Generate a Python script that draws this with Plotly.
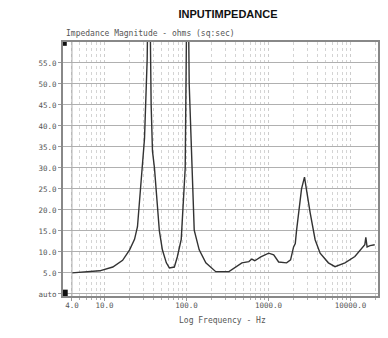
import plotly.graph_objects as go

freq_hz = [4.0, 5.75, 8.73, 12.6, 16.6, 20.2, 23.2, 25.2, 29.0, 30.7, 33.1, 34.8, 37.0, 38.4, 40.6,
           46.6, 50.7, 56.7, 61.7, 71.0, 77.1, 86.1, 96.3, 100.5, 102.8, 107.7, 116, 124, 142.6,
           171.8, 227, 329, 473, 575, 625, 680, 804, 1004, 1156, 1328, 1661, 1857, 2020, 2118,
           2193, 2322, 2525, 2744, 2942, 3219, 3700, 4256, 5370, 6472, 8553, 11300, 14930,
           15360, 15920, 17300, 19720]
impedance = [5.0, 5.2, 5.5, 6.4, 8.0, 10.5, 13.0, 16.0, 30.0, 37.0, 56.0, 90.0, 45.0, 34.0, 30.0,
             15.0, 10.5, 7.4, 6.2, 6.4, 8.8, 13.0, 30.0, 50.0, 90.0, 50.0, 30.0, 15.2, 10.5,
             7.4, 5.3, 5.3, 7.4, 7.7, 8.3, 7.9, 8.8, 9.7, 9.3, 7.6, 7.4, 8.1, 11.2, 12.0,
             15.0, 19.3, 25.0, 27.8, 24.0, 19.3, 12.9, 9.7, 7.4, 6.5, 7.4, 8.9, 11.7,
             13.5, 11.2, 11.5, 11.7]

x_tick_vals = [4, 10, 100, 1000, 10000]
x_tick_text = ["4.0", "10.0", "100.0", "1000.0", "10000.0"]
y_tick_vals = [0, 5, 10, 15, 20, 25, 30, 35, 40, 45, 50, 55]
y_tick_text = ["auto", "5.0", "10.0", "15.0", "20.0", "25.0", "30.0", "35.0", "40.0", "45.0", "50.0", "55.0"]
minor_vals = [m * 10 ** d for d in range(0, 5) for m in range(2, 10) if 4 < m * 10 ** d < 21000]

fig = go.Figure()
fig.add_trace(go.Scatter(x=freq_hz, y=impedance, mode="lines",
                         line=dict(color="#333333", width=1.4), showlegend=False))
fig.add_vline(x=4, line=dict(color="#aaaaaa", width=1))

tickfont = dict(family="DejaVu Sans Mono", size=7.5, color="#555555")
fig.update_layout(
    width=388, height=338,
    margin=dict(l=63, r=8, t=42, b=42),
    paper_bgcolor="white", plot_bgcolor="white",
    title=dict(text="<b>INPUTIMPEDANCE</b>", x=228 / 388, xanchor="center", y=1 - 14 / 338, yanchor="middle",
               font=dict(family="Liberation Sans", size=11, color="#111111")),
    xaxis=dict(type="log", range=[0.493, 4.335], tickvals=x_tick_vals, ticktext=x_tick_text,
               tickfont=tickfont, showgrid=True, gridcolor="#cccccc", griddash="dot", gridwidth=1,
               showline=True, linecolor="#888888", linewidth=2, mirror=True,
               ticks="outside", ticklen=3, tickcolor="#999999", ticklabelstandoff=-2,
               minor=dict(tickvals=minor_vals, showgrid=True, gridcolor="#d4d4d4", griddash="dot",
                          ticks="outside", ticklen=2, tickcolor="#aaaaaa"),
               zeroline=False),
    yaxis=dict(range=[-0.5, 60], tickvals=y_tick_vals, ticktext=y_tick_text, tickfont=tickfont,
               showgrid=True, gridcolor="#b0b0b0", gridwidth=1,
               showline=True, linecolor="#888888", linewidth=2, mirror=True,
               ticks="outside", ticklen=3, tickcolor="#999999", zeroline=False),
)
fig.add_annotation(text="Impedance Magnitude - ohms (sq:sec)", xref="paper", yref="paper",
                   x=0, y=1, xshift=1, yshift=2, xanchor="left", yanchor="bottom", showarrow=False,
                   font=dict(family="DejaVu Sans Mono", size=8, color="#555555"))
fig.add_annotation(text="Log Frequency - Hz", xref="paper", yref="paper",
                   x=(224 - 63) / 317, y=0, yshift=-24, xanchor="center", yanchor="middle", showarrow=False,
                   font=dict(family="DejaVu Sans Mono", size=8, color="#555555"))
fig.add_shape(type="rect", xref="paper", yref="paper", x0=0, x1=0.012, y0=0.985, y1=1.0,
              fillcolor="#111111", line=dict(width=0))
fig.add_shape(type="rect", xref="paper", yref="paper", x0=0, x1=0.015, y0=0.0, y1=0.025,
              fillcolor="#111111", line=dict(width=0))
fig.write_html("out.html")
